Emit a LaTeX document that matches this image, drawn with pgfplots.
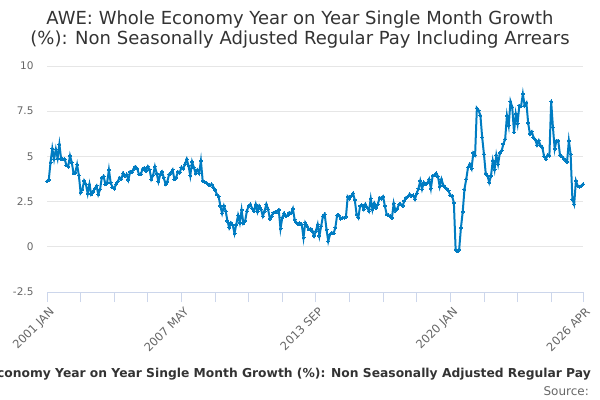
\documentclass[border=0pt]{standalone}
\usepackage{fontspec}
\setmainfont{DejaVu Sans}
\usepackage{pgfplots}
\pgfplotsset{compat=1.18}
\definecolor{linec}{RGB}{0,124,194}
\definecolor{axisb}{RGB}{204,214,235}
\definecolor{gridc}{RGB}{230,230,230}
\definecolor{tickt}{RGB}{102,102,102}
\definecolor{titlec}{RGB}{51,51,51}
\pgfplotstableread{
m v
0 3.62
1 3.70
2 4.67
3 5.44
4 4.85
5 5.40
6 4.90
7 5.67
8 4.85
9 4.85
10 4.85
11 4.50
12 4.44
13 5.04
14 4.67
15 4.07
16 4.10
17 4.55
18 3.96
19 3.00
20 3.18
21 3.65
22 3.46
23 2.94
24 3.46
25 2.90
26 3.04
27 3.22
28 3.37
29 2.90
30 3.18
31 3.83
32 3.90
33 3.46
34 3.55
35 4.26
36 3.55
37 3.30
38 3.22
39 3.45
40 3.60
41 3.83
42 3.74
43 4.07
44 3.93
45 4.00
46 3.70
47 4.15
48 4.11
49 4.30
50 4.44
51 4.33
52 4.00
53 4.00
54 4.30
55 4.37
56 4.20
57 4.44
58 4.26
59 3.74
60 3.96
61 4.44
62 4.07
63 3.60
64 4.00
65 4.15
66 3.83
67 3.46
68 3.60
69 4.00
70 4.10
71 4.26
72 3.74
73 3.83
74 4.15
75 4.10
76 4.39
77 4.33
78 4.57
79 4.85
80 4.48
81 3.93
82 4.70
83 4.39
84 4.07
85 4.26
86 4.07
87 4.76
88 3.65
89 3.60
90 3.55
91 3.46
92 3.40
93 3.46
94 3.30
95 3.15
96 2.90
97 2.80
98 2.26
99 1.85
100 2.26
101 1.98
102 1.43
103 1.06
104 1.33
105 1.20
106 0.74
107 1.24
108 1.74
109 1.33
110 2.04
111 1.30
112 1.43
113 1.98
114 2.26
115 2.35
116 2.11
117 1.98
118 2.35
119 1.93
120 2.26
121 2.07
122 1.70
123 1.98
124 2.35
125 2.07
126 1.55
127 1.70
128 1.89
129 1.93
130 1.95
131 2.04
132 1.00
133 1.61
134 1.85
135 1.70
136 1.74
137 1.89
138 1.85
139 2.11
140 1.50
141 1.33
142 1.24
143 1.30
144 1.24
145 0.50
146 1.33
147 1.15
148 0.96
149 1.00
150 0.87
151 0.60
152 0.87
153 1.24
154 0.60
155 1.15
156 1.70
157 1.80
158 0.96
159 0.31
160 0.69
161 0.78
162 0.74
163 1.06
164 1.74
165 1.74
166 1.56
167 1.61
168 1.61
169 1.67
170 2.78
171 2.67
172 2.81
173 2.96
174 2.59
175 1.80
176 1.61
177 2.26
178 2.30
179 2.07
180 2.35
181 2.17
182 1.98
183 2.67
184 2.04
185 2.41
186 2.17
187 2.35
188 2.72
189 2.67
190 2.78
191 2.26
192 1.80
193 1.74
194 1.70
195 1.61
196 2.41
197 1.98
198 2.11
199 2.35
200 2.35
201 2.26
202 2.54
203 2.72
204 2.78
205 2.91
206 2.81
207 2.85
208 2.63
209 2.96
210 3.22
211 3.65
212 3.19
213 3.56
214 3.46
215 3.52
216 3.74
217 3.22
218 3.93
219 3.96
220 4.07
221 3.89
222 3.33
223 3.74
224 3.41
225 3.28
226 3.22
227 3.09
228 2.85
229 2.81
230 2.44
231 -0.15
232 -0.24
233 -0.15
234 1.06
235 1.93
236 3.19
237 3.74
238 4.39
239 4.57
240 4.33
241 5.19
242 5.07
243 7.67
244 7.54
245 7.26
246 6.06
247 5.13
248 4.07
249 3.93
250 3.56
251 3.93
252 4.76
253 4.26
254 5.07
255 4.57
256 5.19
257 5.31
258 5.69
259 5.96
260 7.26
261 6.70
262 8.04
263 7.72
264 6.33
265 7.35
266 6.80
267 7.81
268 7.78
269 8.46
270 7.81
271 7.96
272 6.85
273 6.24
274 6.37
275 6.06
276 5.93
277 5.63
278 5.87
279 5.59
280 5.50
281 5.00
282 4.85
283 5.07
284 5.04
285 8.04
286 6.61
287 5.41
288 5.87
289 5.87
290 5.07
291 5.00
292 4.89
293 4.81
294 4.70
295 5.87
296 5.13
297 2.63
298 2.35
299 3.65
300 3.37
301 3.33
302 3.37
303 3.46
}\awedata
\begin{document}
\begin{tikzpicture}
\begin{axis}[
  at={(47bp,108bp)}, anchor=south west,
  scale only axis, width=536bp, height=226bp,
  xmin=0, xmax=303, ymin=-2.5, ymax=10,
  axis x line*=bottom, axis y line*=left,
  x axis line style={draw=axisb, line width=0.8bp},
  y axis line style={draw=none},
  ytick={-2.5,0,2.5,5,7.5,10},
  yticklabels={-2.5,0,2.5,5,7.5,10},
  ymajorgrids, grid style={draw=gridc, line width=0.8bp},
  ytick style={draw=none},
  xtick={0,76,152,228,303},
  xticklabels={2001 JAN,2007 MAY,2013 SEP,2020 JAN,2026 APR},
  minor xtick={19,38,57,95,114,133,171,190,209,247,266,285},
  xtick style={draw=axisb, line width=0.8bp},
  tick align=outside,
  major tick length=10bp, minor tick length=10bp,
  yticklabel style={font=\fontsize{10.5bp}{13bp}\selectfont, text=tickt, anchor=east, xshift=0bp},
  xticklabel style={font=\fontsize{11.5bp}{13bp}\selectfont, text=tickt, rotate=45, anchor=north east, xshift=1.5bp, yshift=-1bp},
  clip=false,
]
\addplot[color=linec, line width=2bp, mark=*, mark size=1.5bp, mark options={fill=linec, draw=linec, line width=0bp}] table[x=m, y=v] {\awedata};
\end{axis}
\node[anchor=base, text=titlec, font=\fontsize{18bp}{22bp}\selectfont] at (300bp,375bp) {AWE: Whole Economy Year on Year Single Month Growth};
\node[anchor=base, text=titlec, font=\fontsize{18bp}{22bp}\selectfont] at (300bp,355bp) {(\%): Non Seasonally Adjusted Regular Pay Including Arrears};
\node[anchor=base east, inner sep=0pt, text=titlec, font=\bfseries\fontsize{12.3bp}{14bp}\selectfont] at (591bp,23bp) {conomy Year on Year Single Month Growth (\%): Non Seasonally Adjusted Regular Pay};
\node[anchor=base east, inner sep=0pt, text=tickt, font=\fontsize{12bp}{14bp}\selectfont] at (589bp,5bp) {Source:};
\pgfresetboundingbox
\path[use as bounding box] (0bp,0bp) rectangle (600bp,400bp);
\end{tikzpicture}
\end{document}
